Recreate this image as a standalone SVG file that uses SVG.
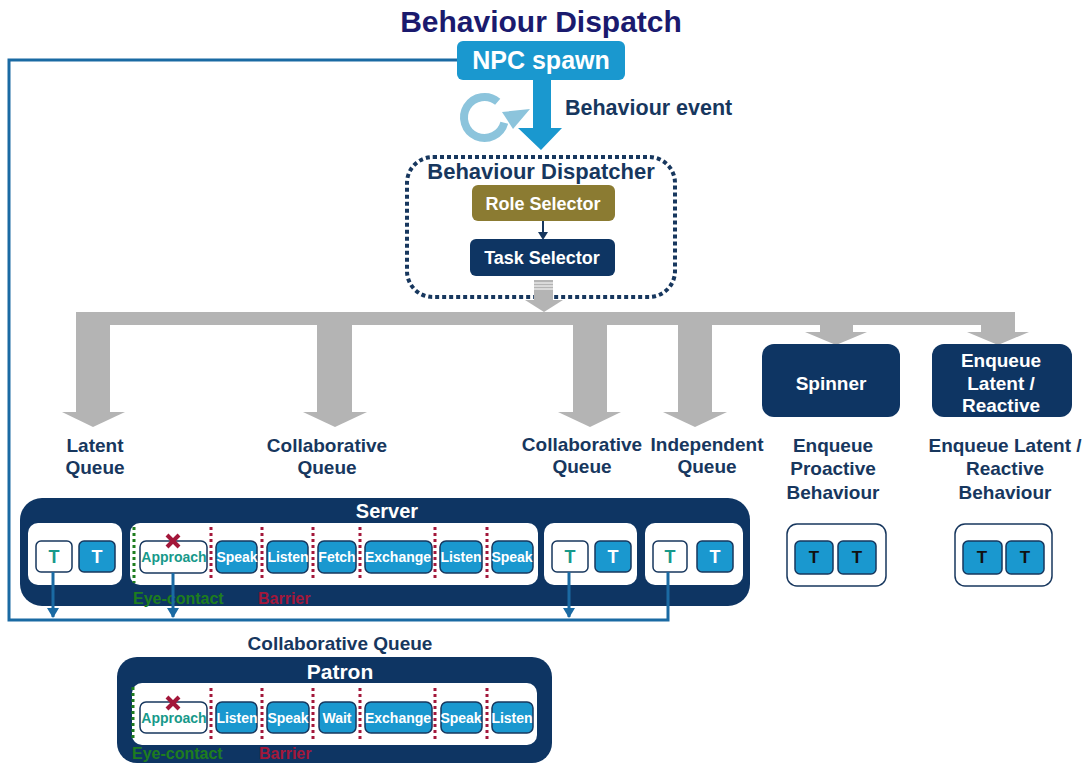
<svg xmlns="http://www.w3.org/2000/svg" width="1089" height="765" viewBox="0 0 1089 765">
<defs>
<style>
text{font-family:"Liberation Sans",Arial,sans-serif;font-weight:bold}
.nv{fill:#17375e}
.lbl{font-size:19px;fill:#17375e;text-anchor:middle}
.panel{fill:#0e3563}
.inner{fill:#fff}
.tb{fill:#1a98cf;stroke:#17375e;stroke-width:1.5}
.to{fill:#fff;stroke:#17375e;stroke-width:1.5}
.tw{font-size:18px;fill:#fff;text-anchor:middle}
.tt{font-size:18px;fill:#17998a;text-anchor:middle}
.tk{font-size:17px;fill:#111;text-anchor:middle}
.sw{font-size:14px;fill:#fff;text-anchor:middle}
.ap{font-size:14px;fill:#17998a;text-anchor:middle}
.red{stroke:#a3173a;stroke-width:3;stroke-dasharray:3 3}
.grn{stroke:#1e7d1e;stroke-width:3;stroke-dasharray:3 3}
.x{stroke:#a3173a;stroke-width:4}
.gray{fill:#b4b4b4}
.conn{fill:none;stroke:#1a6aa3;stroke-width:3}
</style>
<marker id="ah" markerWidth="12" markerHeight="10" refX="6" refY="9" orient="0" markerUnits="userSpaceOnUse">
<path d="M0,0 L12,0 L6,10 Z" fill="#1a6aa3"/>
</marker>
</defs>
<rect width="1089" height="765" fill="#fff"/>

<text x="541" y="32" font-size="30" fill="#1a1a6e" text-anchor="middle">Behaviour Dispatch</text>

<g id="event-arrows">
<path d="M497.7,101.8 A20.5,20.5 0 1 0 504.3,122.8" fill="none" stroke="#8cc4dc" stroke-width="8"/>
<polygon points="502,112 530,109 513,129" fill="#8cc4dc"/>
<polygon points="533,80 551,80 551,128 562,128 541,150 518,128 533,128" fill="#1a98cf"/>
<line x1="543" y1="221" x2="543" y2="233" stroke="#17375e" stroke-width="2"/>
<polygon points="538,232 548,232 543,240" fill="#17375e"/>
</g>

<g id="npc-spawn">
<rect x="457" y="41" width="168" height="39" rx="6" fill="#1a98cf"/>
<text x="541" y="69" font-size="25" fill="#fff" text-anchor="middle">NPC spawn</text>
</g>
<text x="565" y="115" font-size="21.5" class="nv">Behaviour event</text>

<g id="dispatcher">
<rect x="407" y="157" width="268" height="140" rx="26" fill="none" stroke="#17375e" stroke-width="4" stroke-dasharray="4 3"/>
<text x="541" y="179" font-size="22" class="nv" text-anchor="middle">Behaviour Dispatcher</text>
</g>
<g id="role-selector">
<rect x="472" y="185" width="143" height="36" rx="6" fill="#8b7b32"/>
<text x="543" y="210" font-size="18" fill="#fff" text-anchor="middle">Role Selector</text>
</g>
<g id="task-selector">
<rect x="470" y="239" width="145" height="37" rx="6" fill="#0e3563"/>
<text x="542" y="264" font-size="18" fill="#fff" text-anchor="middle">Task Selector</text>
</g>

<g id="dispatch-arrows">
<rect class="gray" x="534" y="280" width="19" height="21"/>
<line x1="534" y1="283" x2="553" y2="283" stroke="#fff" stroke-width="1"/>
<line x1="534" y1="286" x2="553" y2="286" stroke="#fff" stroke-width="1"/>
<line x1="534" y1="289" x2="553" y2="289" stroke="#fff" stroke-width="1"/>
<polygon class="gray" points="525,300 563,300 544,312"/>
<rect class="gray" x="76" y="312" width="939" height="13"/>
<rect class="gray" x="76" y="312" width="34" height="100"/>
<polygon class="gray" points="62,412 125,412 93,427"/>
<rect class="gray" x="317" y="312" width="35" height="100"/>
<polygon class="gray" points="303,412 367,412 335,427"/>
<rect class="gray" x="573" y="312" width="34" height="100"/>
<polygon class="gray" points="558,412 621,412 590,427"/>
<rect class="gray" x="678" y="312" width="34" height="100"/>
<polygon class="gray" points="663,412 727,412 695,427"/>
<rect class="gray" x="820" y="312" width="33" height="21"/>
<polygon class="gray" points="805,332 867,332 836,345"/>
<rect class="gray" x="981" y="312" width="34" height="21"/>
<polygon class="gray" points="967,332 1029,332 998,345"/>
</g>

<g id="queue-labels">
<text class="lbl" x="95" y="452">Latent</text>
<text class="lbl" x="95" y="474">Queue</text>
<text class="lbl" x="327" y="452">Collaborative</text>
<text class="lbl" x="327" y="474">Queue</text>
<text class="lbl" x="582" y="451">Collaborative</text>
<text class="lbl" x="582" y="473">Queue</text>
<text class="lbl" x="707" y="451">Independent</text>
<text class="lbl" x="707" y="473">Queue</text>
<text class="lbl" x="833" y="452">Enqueue</text>
<text class="lbl" x="833" y="475">Proactive</text>
<text class="lbl" x="833" y="499">Behaviour</text>
<text class="lbl" x="1005" y="452">Enqueue Latent /</text>
<text class="lbl" x="1005" y="475">Reactive</text>
<text class="lbl" x="1005" y="499">Behaviour</text>
</g>

<g id="spinner">
<rect x="762" y="344" width="138" height="73" rx="12" class="panel"/>
<text x="831" y="390" font-size="19" fill="#fff" text-anchor="middle">Spinner</text>
</g>
<g id="enqueue-latent-reactive">
<rect x="932" y="344" width="140" height="73" rx="12" class="panel"/>
<text x="1001" y="367" font-size="19" fill="#fff" text-anchor="middle">Enqueue</text>
<text x="1001" y="390" font-size="19" fill="#fff" text-anchor="middle">Latent /</text>
<text x="1001" y="412" font-size="19" fill="#fff" text-anchor="middle">Reactive</text>
</g>

<g id="proactive-queue">
<rect x="787" y="524" width="99" height="62" rx="10" fill="#fff" stroke="#17375e" stroke-width="1.5"/>
<rect class="tb" x="795" y="541" width="38" height="33" rx="5"/>
<text class="tk" x="814" y="563">T</text>
<rect class="tb" x="838" y="541" width="38" height="33" rx="5"/>
<text class="tk" x="857" y="563">T</text>
</g>
<g id="reactive-queue">
<rect x="955" y="524" width="97" height="62" rx="10" fill="#fff" stroke="#17375e" stroke-width="1.5"/>
<rect class="tb" x="963" y="541" width="39" height="33" rx="5"/>
<text class="tk" x="982" y="563">T</text>
<rect class="tb" x="1006" y="541" width="38" height="33" rx="5"/>
<text class="tk" x="1025" y="563">T</text>
</g>

<g id="server">
<rect class="panel" x="20" y="498" width="730" height="108" rx="22"/>
<text x="387" y="518" font-size="20" fill="#fff" text-anchor="middle">Server</text>
<rect class="inner" x="28" y="523" width="94" height="62" rx="10"/>
<rect class="to" x="36" y="541" width="36" height="31" rx="5"/>
<text class="tt" x="54" y="563">T</text>
<rect class="tb" x="79" y="541" width="36" height="31" rx="5"/>
<text class="tw" x="97" y="563">T</text>

<rect class="inner" x="130" y="523" width="408" height="62" rx="10"/>
<line class="grn" x1="134" y1="527" x2="134" y2="583"/>
<rect class="to" x="140" y="541" width="67" height="32" rx="6"/>
<text class="ap" x="174" y="562">Approach</text>
<line class="x" x1="167" y1="535" x2="179" y2="547"/>
<line class="x" x1="179" y1="535" x2="167" y2="547"/>
<line class="red" x1="211" y1="527" x2="211" y2="581"/>
<rect class="tb" x="216" y="541" width="41" height="32" rx="6"/>
<text class="sw" x="237" y="562">Speak</text>
<line class="red" x1="262" y1="527" x2="262" y2="581"/>
<rect class="tb" x="267" y="541" width="41" height="32" rx="6"/>
<text class="sw" x="288" y="562">Listen</text>
<line class="red" x1="313" y1="527" x2="313" y2="581"/>
<rect class="tb" x="318" y="541" width="38" height="32" rx="6"/>
<text class="sw" x="337" y="562">Fetch</text>
<line class="red" x1="360" y1="527" x2="360" y2="581"/>
<rect class="tb" x="365" y="541" width="67" height="32" rx="6"/>
<text class="sw" x="398" y="562">Exchange</text>
<line class="red" x1="435" y1="527" x2="435" y2="581"/>
<rect class="tb" x="440" y="541" width="42" height="32" rx="6"/>
<text class="sw" x="461" y="562">Listen</text>
<line class="red" x1="487" y1="527" x2="487" y2="581"/>
<rect class="tb" x="492" y="541" width="41" height="32" rx="6"/>
<text class="sw" x="512" y="562">Speak</text>

<rect class="inner" x="544" y="523" width="93" height="62" rx="10"/>
<rect class="to" x="552" y="541" width="36" height="31" rx="5"/>
<text class="tt" x="570" y="563">T</text>
<rect class="tb" x="595" y="541" width="36" height="31" rx="5"/>
<text class="tw" x="613" y="563">T</text>

<rect class="inner" x="645" y="523" width="98" height="62" rx="10"/>
<rect class="to" x="653" y="541" width="34" height="31" rx="5"/>
<text class="tt" x="670" y="563">T</text>
<rect class="tb" x="697" y="541" width="36" height="31" rx="5"/>
<text class="tw" x="715" y="563">T</text>

<text x="133" y="604" font-size="16" fill="#1e7d1e">Eye-contact</text>
<text x="258" y="604" font-size="16" fill="#a3173a">Barrier</text>
</g>

<text class="lbl" x="340" y="650">Collaborative Queue</text>

<g id="patron">
<rect class="panel" x="117" y="657" width="435" height="106" rx="20"/>
<text x="340" y="679" font-size="21" fill="#fff" text-anchor="middle">Patron</text>
<rect class="inner" x="132" y="683" width="405" height="62" rx="10"/>
<line class="grn" x1="133" y1="687" x2="133" y2="741"/>
<rect class="to" x="140" y="702" width="67" height="31" rx="6"/>
<text class="ap" x="174" y="723">Approach</text>
<line class="x" x1="167" y1="697" x2="179" y2="709"/>
<line class="x" x1="179" y1="697" x2="167" y2="709"/>
<line class="red" x1="211" y1="688" x2="211" y2="741"/>
<rect class="tb" x="216" y="702" width="41" height="31" rx="6"/>
<text class="sw" x="237" y="723">Listen</text>
<line class="red" x1="262" y1="688" x2="262" y2="741"/>
<rect class="tb" x="267" y="702" width="42" height="31" rx="6"/>
<text class="sw" x="288" y="723">Speak</text>
<line class="red" x1="313" y1="688" x2="313" y2="741"/>
<rect class="tb" x="319" y="702" width="37" height="31" rx="6"/>
<text class="sw" x="337" y="723">Wait</text>
<line class="red" x1="360" y1="688" x2="360" y2="741"/>
<rect class="tb" x="365" y="702" width="67" height="31" rx="6"/>
<text class="sw" x="398" y="723">Exchange</text>
<line class="red" x1="435" y1="688" x2="435" y2="741"/>
<rect class="tb" x="441" y="702" width="41" height="31" rx="6"/>
<text class="sw" x="461" y="723">Speak</text>
<line class="red" x1="487" y1="688" x2="487" y2="741"/>
<rect class="tb" x="492" y="702" width="41" height="31" rx="6"/>
<text class="sw" x="512" y="723">Listen</text>
<text x="132" y="759" font-size="16" fill="#1e7d1e">Eye-contact</text>
<text x="259" y="759" font-size="16" fill="#a3173a">Barrier</text>
</g>

<g id="connectors">
<path class="conn" d="M457,60 H9 V620 H668 V572"/>
<line class="conn" x1="53" y1="572" x2="53" y2="617" marker-end="url(#ah)"/>
<line class="conn" x1="173" y1="573" x2="173" y2="617" marker-end="url(#ah)"/>
<line class="conn" x1="569" y1="572" x2="569" y2="617" marker-end="url(#ah)"/>
</g>
</svg>
